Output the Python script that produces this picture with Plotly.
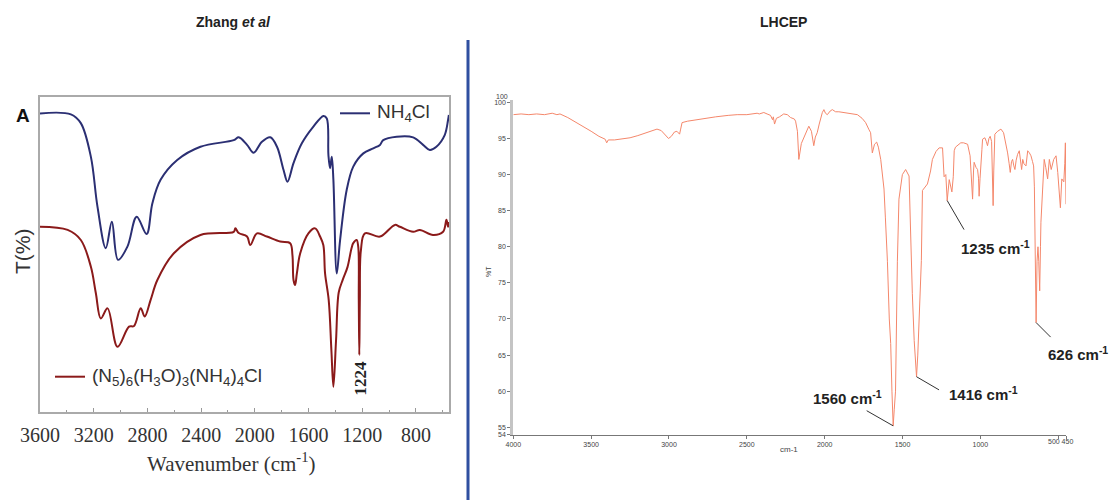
import numpy as np
import plotly.graph_objects as go

W, H = 1113, 500

# ---------------- Left panel data (Zhang et al) ----------------
nh4cl_wn = [3600, 3370, 3296, 3221, 3172, 3110, 3065, 3019, 2949, 2880, 2806, 2763, 2702,
            2578, 2405, 2157, 2120, 2058, 2009, 1947, 1885, 1835, 1786, 1757, 1712, 1650,
            1564, 1489, 1464, 1452, 1440, 1427, 1415, 1390, 1365, 1316, 1267, 1192, 1118,
            1068, 1044, 944, 821, 747, 697, 648, 586, 561, 555]
nh4cl_t = [94.8, 94.5, 91.7, 81.0, 65.2, 52.0, 60.4, 48.3, 52.5, 62.0, 56.5, 66.3, 73.7,
           80.0, 84.2, 86.3, 87.2, 84.8, 82.3, 85.8, 87.2, 84.2, 76.8, 73.1, 79.0, 85.3,
           90.6, 94.0, 93.2, 81.6, 77.4, 81.0, 73.7, 44.0, 54.6, 70.5, 77.9, 82.1, 83.7,
           84.8, 86.3, 87.4, 87.2, 84.8, 83.2, 84.2, 87.9, 92.7, 94.3]

n5_wn = [3600, 3394, 3296, 3221, 3184, 3147, 3097, 3023, 2937, 2900, 2850, 2820, 2776,
         2726, 2603, 2405, 2157, 2145, 2120, 2058, 2034, 1984, 1910, 1811, 1737, 1720,
         1712, 1700, 1687, 1662, 1601, 1551, 1514, 1490, 1477, 1450, 1430, 1415, 1395,
         1375, 1345, 1310, 1280, 1267, 1242, 1230, 1226, 1222, 1218, 1210, 1180, 1068,
         957, 920, 821, 771, 673, 598, 573, 561, 555]
n5_t = [58.8, 57.8, 54.6, 46.1, 37.7, 29.7, 32.9, 20.7, 27.1, 27.3, 32.9, 30.3, 35.6,
        41.9, 50.4, 56.2, 57.2, 58.3, 56.8, 55.7, 53.0, 56.7, 55.7, 54.1, 53.6, 49.8,
        41.9, 40.3, 44.0, 50.4, 56.7, 58.3, 55.7, 53.0, 44.0, 35.6, 19.7, 8.0, 23.0,
        38.0, 42.0, 46.0, 52.0, 53.6, 54.6, 52.5, 35.6, 18.1, 35.6, 51.4, 56.7, 55.7,
        59.4, 58.8, 57.2, 57.8, 56.2, 57.2, 61.0, 58.8, 60.3]

left_ticks = [3600, 3200, 2800, 2400, 2000, 1600, 1200, 800]
left_minor = [3400, 3000, 2600, 2200, 1800, 1400, 1000, 600]

# ---------------- Right panel data (LHCEP) ----------------
lhcep_wn = [4000, 3950, 3900, 3850, 3800, 3750, 3720, 3700, 3650, 3600, 3550, 3500, 3450,
            3410, 3400, 3390, 3350, 3300, 3250, 3200, 3150, 3100, 3077, 3050, 3020, 3003,
            2985, 2965, 2949, 2940, 2932, 2925, 2916, 2880, 2820, 2777, 2700, 2620, 2562,
            2500, 2434, 2420, 2391, 2370, 2348, 2335, 2330, 2322, 2310, 2290, 2263, 2240,
            2219, 2195, 2187, 2175, 2166, 2150, 2134, 2115, 2102, 2085, 2070, 2060, 2048,
            2035, 2026, 2015, 2005, 1995, 1983, 1965, 1951, 1930, 1909, 1870, 1830, 1790,
            1760, 1737, 1715, 1705, 1694, 1680, 1666, 1655, 1640, 1630, 1619, 1610, 1597,
            1585, 1576, 1568, 1560, 1553, 1545, 1533, 1523, 1501, 1480, 1458, 1443, 1437,
            1425, 1410, 1402, 1394, 1379, 1372, 1355, 1340, 1320, 1308, 1285, 1265, 1243,
            1233, 1222, 1213, 1200, 1190, 1183, 1174, 1168, 1160, 1147, 1126, 1108, 1082,
            1066, 1055, 1050, 1044, 1040, 1028, 1018, 1012, 1008, 1002, 997, 990, 986,
            971, 962, 954, 945, 937, 928, 921, 918, 914, 907, 889, 868, 851, 838, 825, 815,
            808, 800, 793, 785, 778, 770, 761, 750, 742, 735, 728, 720, 707, 700, 696, 685,
            675, 665, 658, 653, 648, 642, 636, 630, 625, 619, 614, 611, 600, 590, 580, 568,
            557, 545, 529, 514, 503, 495, 486, 477, 464, 458, 454, 451, 450]
lhcep_t = [98.3, 98.4, 98.3, 98.4, 98.3, 98.5, 98.3, 98.4, 97.9, 97.3, 96.7, 96.0, 95.3,
           94.9, 94.4, 94.8, 94.8, 94.9, 95.1, 95.4, 95.8, 96.2, 96.3, 96.1, 95.4, 95.0,
           95.3, 95.9, 96.0, 95.8, 95.6, 96.3, 97.2, 97.4, 97.6, 97.8, 98.0, 98.2, 98.3,
           98.3, 98.5, 98.4, 98.6, 98.4, 98.2, 97.6, 98.0, 97.0, 97.8, 98.0, 98.4, 98.3,
           97.9, 97.7, 97.4, 96.0, 92.1, 94.3, 95.1, 96.2, 96.7, 96.0, 94.0, 95.2, 95.8,
           97.0, 97.9, 98.6, 99.0, 98.5, 98.3, 98.8, 99.0, 98.7, 98.7, 98.6, 98.4, 98.3,
           97.8, 97.2, 96.2, 95.8, 93.0, 94.2, 94.5, 93.8, 92.1, 90.0, 88.0, 84.0, 78.0,
           70.0, 66.6, 60.0, 55.2, 57.5, 60.0, 78.0, 86.6, 90.0, 90.7, 89.8, 76.8, 73.5,
           67.0, 62.0, 65.0, 68.9, 78.1, 87.8, 88.3, 88.7, 90.5, 92.1, 93.2, 93.7, 93.7,
           89.7, 90.0, 86.4, 89.3, 88.0, 87.6, 89.7, 93.3, 93.8, 94.0, 94.4, 94.4, 94.2,
           92.6, 89.0, 86.6, 90.5, 91.7, 91.0, 90.7, 89.5, 87.0, 89.5, 90.7, 93.5, 94.9,
           95.1, 94.6, 94.0, 95.0, 95.3, 94.6, 90.0, 85.7, 90.5, 95.6, 96.0, 96.3, 95.8,
           94.5, 93.0, 91.5, 90.3, 91.8, 92.1, 91.2, 90.7, 92.0, 92.8, 93.3, 92.0, 90.7,
           92.1, 91.5, 91.2, 92.5, 93.3, 93.0, 92.6, 91.8, 91.2, 88.3, 78.0, 69.5, 78.0,
           80.0, 78.0, 73.9, 80.0, 83.4, 88.0, 92.1, 91.0, 89.4, 92.1, 90.7, 92.1, 92.6,
           90.3, 88.0, 85.4, 89.4, 89.0, 91.5, 94.4, 88.0, 85.9]

right_ticks = [4000, 3500, 3000, 2500, 2000, 1500, 1000, 500, 450]
right_ticktext = ["4000", "3500", "3000", "2500", "2000", "1500", "1000", " ", " "]
right_yticks = [54, 55, 60, 65, 70, 75, 80, 85, 90, 95, 100]

peak_labels = [1235, 1560, 1416, 626]
peak_label_text = ["1235 cm<sup>-1</sup>", "1560 cm<sup>-1</sup>", "1416 cm<sup>-1</sup>", "626 cm<sup>-1</sup>"]

# ---------------- helpers ----------------
def px(x):
    return x / W

def py(y):
    return 1 - y / H

fig = go.Figure()

fig.add_trace(go.Scatter(x=nh4cl_wn, y=nh4cl_t, mode="lines", line=dict(color="#2B2F73", width=2),
                         xaxis="x", yaxis="y", showlegend=False, line_shape="spline"))
fig.add_trace(go.Scatter(x=n5_wn, y=n5_t, mode="lines", line=dict(color="#8B1A1A", width=2),
                         xaxis="x", yaxis="y", showlegend=False, line_shape="spline"))
fig.add_trace(go.Scatter(x=lhcep_wn, y=lhcep_t, mode="lines", line=dict(color="#F4876B", width=1),
                         xaxis="x2", yaxis="y2", showlegend=False))

serif = "Liberation Serif, Times New Roman, serif"
sans = "Liberation Sans, Arial, sans-serif"

fig.update_layout(
    width=W, height=H, margin=dict(l=0, r=0, t=0, b=0, autoexpand=False),
    paper_bgcolor="white", plot_bgcolor="white",
    xaxis=dict(domain=[px(40), px(449)], range=[3600, 554], tickmode="array", tickvals=left_ticks,
               ticks="inside", ticklen=4, tickcolor="#999", showline=True, mirror=True,
               linecolor="#aaaaaa", linewidth=1.5, showgrid=False, zeroline=False, automargin=False,
               tickfont=dict(family=serif, size=20, color="#333"), ticklabelstandoff=4,
               minor=dict(tickvals=left_minor, ticks="inside", ticklen=2, tickcolor="#999")),
    yaxis=dict(domain=[py(412), py(97)], range=[0, 100], showticklabels=False, ticks="",
               showline=True, mirror=True, linecolor="#aaaaaa", linewidth=1.5, showgrid=False,
               zeroline=False, automargin=False),
    xaxis2=dict(domain=[px(513.3), px(1066)], range=[4000, 450], anchor="y2", tickmode="array",
                tickvals=right_ticks, ticktext=right_ticktext, ticks="outside", ticklen=3,
                tickcolor="#777", showline=True, linecolor="#777", linewidth=1, showgrid=False,
                zeroline=False, automargin=False, tickfont=dict(family=sans, size=7, color="#444")),
    yaxis2=dict(domain=[py(434.5), py(99.5)], range=[54, 100.4], anchor="x2", tickmode="array",
                tickvals=right_yticks, ticks="outside", ticklen=3, tickcolor="#777",
                showline=True, linecolor="#c4c4c4", linewidth=3, showgrid=False, zeroline=False,
                automargin=False, tickfont=dict(family=sans, size=7, color="#444")),
)

ann = []

def text(x, y, t, size, family=sans, color="#222", angle=0, xanchor="center"):
    ann.append(dict(x=px(x), y=py(y), xref="paper", yref="paper", text=t, showarrow=False,
                    font=dict(size=size, family=family, color=color), textangle=angle,
                    xanchor=xanchor, yanchor="middle"))

# panel titles
text(233, 22, "<b>Zhang <i>et al</i></b>", 14)
text(783, 22, "<b>LHCEP</b>", 14)

# left panel texts
text(22.5, 116, "<b>A</b>", 19, color="#111")
text(22, 251, "T(%)", 21, color="#333", angle=-90)
text(231, 462, "Wavenumber (cm<sup>-1</sup>)", 21, family=serif, color="#333")
text(375, 113, "NH<sub>4</sub>Cl", 19, color="#333", xanchor="left")
text(90, 377, "(N<sub>5</sub>)<sub>6</sub>(H<sub>3</sub>O)<sub>3</sub>(NH<sub>4</sub>)<sub>4</sub>Cl", 19,
     color="#333", xanchor="left")
text(360, 378.5, "<b>1224</b>", 17, family=serif, color="#222", angle=-90)

# right panel axis texts
text(488, 272, "%T", 7, color="#444", angle=-90)
text(789, 449, "cm-1", 8, color="#444")
text(1060, 441.5, "500 450", 7, color="#444")
text(510, 96.5, "100", 7, color="#444", xanchor="right")

# peak annotations
label_pos = {1235: (995, 247), 1560: (847, 397), 1416: (983, 393), 626: (1078, 353)}
leader = {1235: (18, 31), 1560: (-28, -16), 1416: (24, 14), 626: (16, 16)}
wn_arr = np.array(lhcep_wn, dtype=float)
t_arr = np.array(lhcep_t, dtype=float)
for lab, txt in zip(peak_labels, peak_label_text):
    win = np.abs(wn_arr - lab) < 30
    idx = np.where(win)[0][np.argmin(t_arr[win])]
    ax_, ay_ = leader[lab]
    ann.append(dict(x=wn_arr[idx], y=t_arr[idx], xref="x2", yref="y2", text=" ", showarrow=True,
                    arrowhead=0, arrowwidth=1, arrowcolor="#333", ax=ax_, ay=ay_, standoff=0,
                    startstandoff=0, font=dict(size=1)))
    lx, ly = label_pos[lab]
    text(lx, ly, "<b>" + txt + "</b>", 15, color="#222")

fig.update_layout(annotations=ann)

# legend sample lines and divider
fig.add_shape(type="line", xref="paper", yref="paper", x0=px(340), x1=px(370), y0=py(113.3), y1=py(113.3),
              line=dict(color="#2B2F73", width=2))
fig.add_shape(type="line", xref="paper", yref="paper", x0=px(55), x1=px(85), y0=py(376.7), y1=py(376.7),
              line=dict(color="#8B1A1A", width=2))
fig.add_shape(type="line", xref="paper", yref="paper", x0=px(468), x1=px(468), y0=py(40), y1=0,
              line=dict(color="#2F4FA0", width=3))

fig.write_html("out.html", config={"displayModeBar": False},
               post_script="document.body.style.margin='0';document.body.style.overflow='hidden';")
